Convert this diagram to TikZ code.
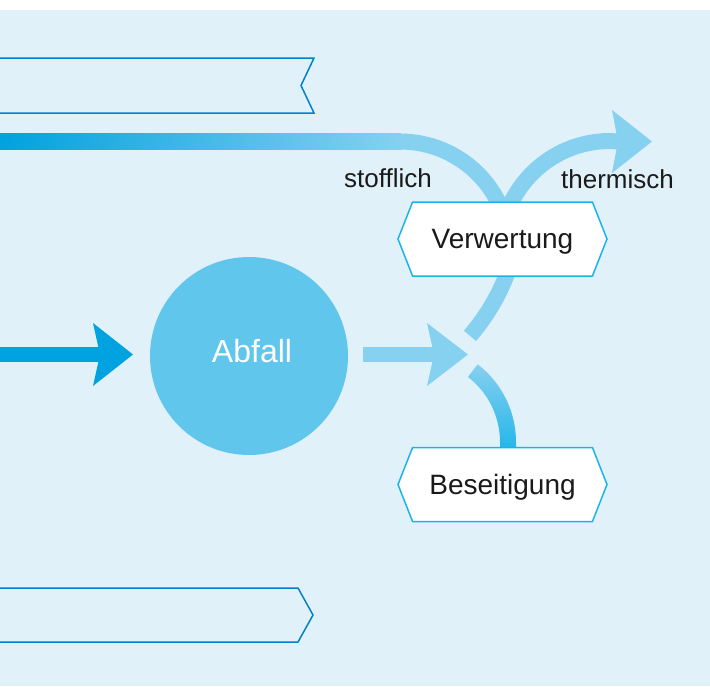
\documentclass[tikz,border=0pt]{standalone}
\usepackage{fontspec}
\setmainfont{Liberation Sans}
\usepackage{tikz}
\usetikzlibrary{positioning,shapes.symbols,calc}

\definecolor{hgblau}{HTML}{E1F1FA}
\definecolor{bandblau}{HTML}{0081C9}
\definecolor{randcyan}{HTML}{1CB4E8}
\definecolor{pfeilblau}{HTML}{00A2DF}
\definecolor{pfeilhell}{HTML}{86D0F0}
\definecolor{kreisblau}{HTML}{60C6EC}
\definecolor{schrift}{HTML}{1A1A1A}

\begin{document}
\begin{tikzpicture}[x=1pt, y=1pt,
    stufe/.style={signal, signal to=west and east, signal pointer angle=137, draw=randcyan, fill=white, line width=1.5pt, minimum width=209pt, minimum height=74pt, inner sep=0pt, text depth=0pt, text=schrift, font=\fontsize{28}{30}\selectfont},
    kreis/.style={circle, fill=kreisblau, minimum size=198pt, inner sep=0pt, text=white, text depth=10pt, font=\fontsize{32}{34}\selectfont},
    band/.style={draw=bandblau, line width=1.5pt},
    bogen/.style={draw=pfeilhell, line width=16pt},
    schaft/.style={line width=15pt},
    marke/.style={anchor=base, text=schrift, font=\fontsize{26}{28}\selectfont}
]

% Hintergrund
\useasboundingbox (0,0) rectangle (710,-686);
\fill[hgblau] (0,-10) rectangle (710,-686);

% Baender
\draw[band] (-5,-58) -- (314,-58) -- (301,-85.5) -- (314,-113) -- (-5,-113);
\draw[band] (-5,-588) -- (298,-588) -- (313,-615) -- (298,-642) -- (-5,-642);

% Punkte
\coordinate (links) at (-2,-354.5);
\coordinate (spitze) at (133,-354.5);
\coordinate (start) at (363,-354.5);
\coordinate (knoten) at (468,-354.5);
\coordinate (bogen1) at (400,-141.5);
\coordinate (thermo) at (652,-141.5);

% Zufluss
\draw[schaft, pfeilblau] (links) -- ($(spitze)+(-32,0)$);
\fill[pfeilblau] (spitze) -- ++(-40,31.5) -- ++(7,-31.5) -- ++(-7,-31.5) -- cycle;

% Abfall -> Knoten
\draw[schaft, pfeilhell] (start) -- ($(knoten)+(-32,0)$);
\fill[pfeilhell] (knoten) -- ++(-41,31.5) -- ++(7,-31.5) -- ++(-7,-31.5) -- cycle;

% stofflich
\shade[left color=pfeilblau, right color=pfeilhell] (0,-133.5) rectangle (401,-149.5);
\draw[bogen] (bogen1) arc[start angle=90, end angle=0, radius=110];

% thermisch
\draw[bogen] (500,-251) arc[start angle=180, end angle=90, radius=110] -- ($(thermo)+(-34,0)$);
\fill[pfeilhell] (thermo) -- ++(-40,31.5) -- ++(6,-31.5) -- ++(-6,-31.5) -- cycle;

% Knoten -> Verwertung
\draw[bogen] (311,-198.6) ++(-40.8:210) arc[start angle=-40.8, end angle=-10, radius=210];

% Knoten -> Beseitigung
\shade[top color=pfeilhell, bottom color=randcyan] (418,-442) ++(52.5:82) arc[start angle=52.5, end angle=0, radius=82] -- ++(0,-14) -- ++(16,0) -- ++(0,14) arc[start angle=0, end angle=52.5, radius=98] -- cycle;

% Knoten
\node[kreis] (abfall) at (249,-356) {\hspace*{6pt}Abfall};
\node[stufe] (verw) at (502.5,-239) {Verwertung};
\node[stufe] (beseit) at (502.5,-484.5) {Beseitigung};

% Beschriftung
\node[marke] (stoff) at (388,-187) {stofflich};
\node[marke] (therm) at (617.5,-188) {thermisch};

\end{tikzpicture}
\end{document}
